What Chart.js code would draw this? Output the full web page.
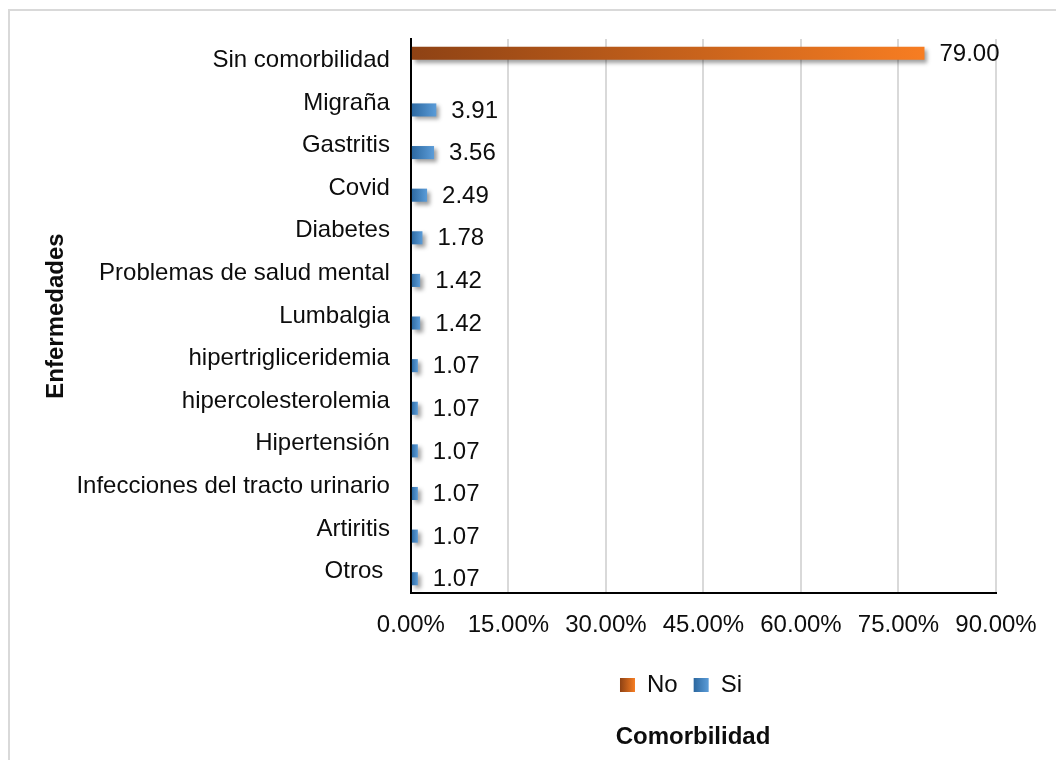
<!DOCTYPE html>
<html>
<head>
<meta charset="utf-8">
<script src="https://cdn.jsdelivr.net/npm/chart.js@4.4.1/dist/chart.umd.min.js"></script>
<style>
  html, body { margin: 0; padding: 0; background: #ffffff; }
  #wrap { width: 1056px; height: 760px; }
</style>
</head>
<body>
<div id="wrap"><canvas id="c" width="1056" height="760"></canvas></div>
<script>
// ---- Data ----
const categories = [
  'Sin comorbilidad', 'Migraña', 'Gastritis', 'Covid', 'Diabetes',
  'Problemas de salud mental', 'Lumbalgia', 'hipertrigliceridemia',
  'hipercolesterolemia', 'Hipertensión', 'Infecciones del tracto urinario',
  'Artiritis', 'Otros '
];
const seriesNames = ['No', 'Si'];
const noValues = [79.00, null, null, null, null, null, null, null, null, null, null, null, null];
const siValues = [null, 3.91, 3.56, 2.49, 1.78, 1.42, 1.42, 1.07, 1.07, 1.07, 1.07, 1.07, 1.07];
const xTickValues = [0, 15, 30, 45, 60, 75, 90];
const xAxisTitle = 'Comorbilidad';
const yAxisTitle = 'Enfermedades';

// ---- Style ----
const FONT = "'Liberation Sans', Arial, Helvetica, sans-serif";
const TEXT = '#0d0d0d';
const palette = {
  No: { dark: '#8e4214', light: '#f77d22', solid: '#c8601a' },
  Si: { dark: '#2b679f', light: '#5b9cd8', solid: '#4683c0' }
};
Chart.defaults.font.family = FONT;
Chart.defaults.font.size = 24;
Chart.defaults.color = TEXT;

function barGradient(name) {
  return function (ctx) {
    const p = palette[name];
    if (ctx.type !== 'data' || ctx.raw == null) return p.solid;
    const chart = ctx.chart;
    const xs = chart.scales && chart.scales.x;
    if (!xs) return p.solid;
    const x0 = xs.getPixelForValue(0);
    const x1 = xs.getPixelForValue(ctx.raw);
    if (!isFinite(x0) || !isFinite(x1) || x1 === x0) return p.solid;
    const g = chart.ctx.createLinearGradient(x0, 0, x1, 0);
    g.addColorStop(0, p.dark);
    g.addColorStop(1, p.light);
    return g;
  };
}

const decorPlugin = {
  id: 'decor',
  afterLayout(chart) {
    const lg = chart.legend;
    if (lg) {
      const w = lg.right - lg.left;
      lg.left = 681 - w / 2;
      lg.right = lg.left + w;
    }
    const t = chart.titleBlock;
    if (t) {
      const w = t.right - t.left;
      t.left = 693 - w / 2;
      t.right = t.left + w;
    }
  },
  beforeDraw(chart) {
    const ctx = chart.ctx;
    ctx.save();
    ctx.fillStyle = '#ffffff';
    ctx.fillRect(0, 0, chart.width, chart.height);
    ctx.strokeStyle = '#d9d9d9';
    ctx.lineWidth = 2;
    ctx.beginPath();
    ctx.moveTo(9, chart.height);
    ctx.lineTo(9, 10);
    ctx.lineTo(chart.width, 10);
    ctx.stroke();
    ctx.restore();
    const lg = chart.legend;
    if (lg && lg.legendItems && lg.legendHitBoxes) {
      lg.legendItems.forEach((it, i) => {
        const hb = lg.legendHitBoxes[i];
        const p = palette[it.text];
        if (!hb || !p) return;
        const g = ctx.createLinearGradient(hb.left, 0, hb.left + 15, 0);
        g.addColorStop(0, p.dark);
        g.addColorStop(1, p.light);
        it.fillStyle = g;
      });
    }
  },
  beforeDatasetsDraw(chart) {
    const ctx = chart.ctx;
    ctx.save();
    ctx.shadowColor = 'rgba(0,0,0,0.38)';
    ctx.shadowBlur = 4;
    ctx.shadowOffsetX = 3;
    ctx.shadowOffsetY = 3;
  },
  afterDatasetsDraw(chart) {
    const ctx = chart.ctx;
    ctx.restore();
    ctx.save();
    ctx.font = '24px ' + FONT;
    ctx.fillStyle = TEXT;
    ctx.textAlign = 'left';
    ctx.textBaseline = 'middle';
    chart.data.datasets.forEach((ds, di) => {
      const meta = chart.getDatasetMeta(di);
      meta.data.forEach((bar, i) => {
        const v = ds.data[i];
        if (v == null || !isFinite(bar.x) || !isFinite(bar.y)) return;
        ctx.fillText(v.toFixed(2), bar.x + 15, bar.y + 1);
      });
    });
    ctx.restore();
  }
};

new Chart(document.getElementById('c'), {
  type: 'bar',
  data: {
    labels: categories,
    datasets: [
      { label: seriesNames[0], data: noValues, backgroundColor: barGradient('No'),
        borderWidth: 0, categoryPercentage: 0.66, barPercentage: 0.93 },
      { label: seriesNames[1], data: siValues, backgroundColor: barGradient('Si'),
        borderWidth: 0, categoryPercentage: 0.66, barPercentage: 0.93 }
    ]
  },
  options: {
    indexAxis: 'y',
    responsive: false,
    animation: false,
    devicePixelRatio: 1,
    layout: { padding: { left: 37.6, right: 60, top: 39, bottom: 0 } },
    scales: {
      x: {
        min: xTickValues[0],
        max: xTickValues[xTickValues.length - 1],
        ticks: {
          stepSize: xTickValues[1] - xTickValues[0],
          padding: 18, color: TEXT, font: { size: 24 },
          maxRotation: 0, autoSkip: false,
          callback: (v) => Number(v).toFixed(2) + '%'
        },
        grid: {
          color: (c) => (c.tick && c.tick.value === 0) ? 'rgba(0,0,0,0)' : '#d9d9d9',
          lineWidth: 2, drawTicks: false
        },
        border: { color: '#000000', width: 2 },
        afterFit: (s) => { s.height = 64; }
      },
      y: {
        ticks: { padding: 21, color: TEXT, font: { size: 24 }, autoSkip: false },
        grid: { display: false, drawTicks: false },
        border: { color: '#000000', width: 2 },
        title: {
          display: true, text: yAxisTitle, color: TEXT,
          font: { size: 24, weight: 'bold' }, padding: { top: 4, bottom: 6 }
        },
        afterFit: (s) => { s.width -= 21; }
      }
    },
    plugins: {
      legend: {
        position: 'bottom',
        labels: { boxWidth: 15, boxHeight: 14, padding: 16, color: TEXT, font: { size: 24 } }
      },
      title: {
        display: true, position: 'bottom', text: xAxisTitle, color: TEXT,
        font: { size: 24, weight: 'bold' }, padding: { top: 15.6, bottom: 8.6 }
      },
      tooltip: { enabled: false }
    }
  },
  plugins: [decorPlugin]
});
</script>
</body>
</html>
